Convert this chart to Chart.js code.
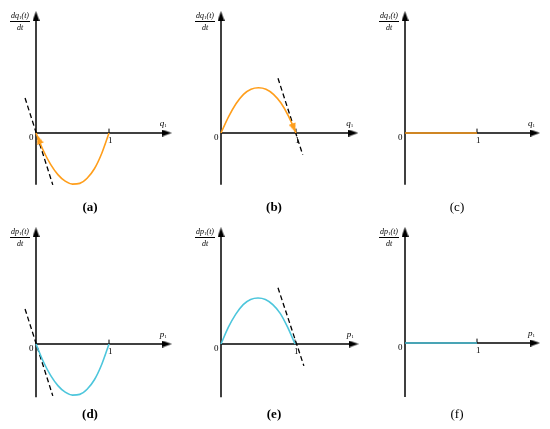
<!DOCTYPE html>
<html><head><meta charset="utf-8">
<script src="https://cdn.jsdelivr.net/npm/chart.js@4"></script>
<style>
body{margin:0;width:550px;height:429px;background:#fff;position:relative;overflow:hidden;font-family:"Liberation Serif","DejaVu Serif",serif;}
canvas{position:absolute;}
.t{position:absolute;white-space:nowrap;color:#000;line-height:1;}
.frac{position:absolute;font-style:italic;font-size:8px;line-height:1;display:flex;flex-direction:column;align-items:center;}
.frac .num{border-bottom:0.8px solid #000;padding:0 1px 1px;}
.frac .den{padding-top:2px;}
sub{font-size:5px;vertical-align:-1px;font-style:normal;}
.xl{font-style:italic;font-size:9px;}
.lab{font-size:13px;}
</style></head><body>
<script>
// ---------- data ----------
const qGrid   = [0, 0.1, 0.2, 0.3, 0.4, 0.5, 0.6, 0.7, 0.8, 0.9, 1];
const curveA  = [0, -0.24, -0.43, -0.57, -0.66, -0.70, -0.69, -0.62, -0.49, -0.28, 0];
const curveB  = [0, 0.22, 0.40, 0.53, 0.60, 0.62, 0.60, 0.53, 0.41, 0.23, 0];
const curveC  = [0, 0, 0, 0, 0, 0, 0, 0, 0, 0, 0];
const curveD  = [0, -0.24, -0.43, -0.57, -0.66, -0.70, -0.69, -0.62, -0.49, -0.28, 0];
const curveE  = [0, 0.23, 0.41, 0.54, 0.61, 0.63, 0.61, 0.54, 0.42, 0.23, 0];
const curveF  = [0, 0, 0, 0, 0, 0, 0, 0, 0, 0, 0];
const tangentA = [[-0.15, 0.48], [0.23, -0.71]];
const tangentB = [[0.76, 0.75], [1.09, -0.30]];
const tangentD = [[-0.15, 0.48], [0.23, -0.71]];
const tangentE = [[0.77, 0.77], [1.12, -0.30]];
const arrowA = [0.04, -0.09];   // arrow head on curve (a), pointing to origin
const arrowB = [0.97, 0.07];    // arrow head on curve (b), pointing to (1,0)
const panelLabels = ["(a)", "(b)", "(c)", "(d)", "(e)", "(f)"];
const yVars = ["q", "q", "q", "p", "p", "p"];
// axis extents (data units)
const yTops    = [1.67, 1.67, 1.67, 1.60, 1.60, 1.59];
const yBottoms = [-0.71, -0.71, -0.71, -0.73, -0.73, -0.74];
const xTips    = [1.86, 1.83, 1.875, 1.86, 1.86, 1.875];

// ---------- layout ----------
const ORANGE = '#FF9E1B', CYAN = '#4DC6DC';
const panels = [
  {left:0,   top:0,   ox:36,  oy:133, ux:73, curve:curveA, tan:tangentA, col:ORANGE, arrow:arrowA, rot:-20, bold:true},
  {left:185, top:0,   ox:221, oy:133, ux:75, curve:curveB, tan:tangentB, col:ORANGE, arrow:arrowB, rot:160, bold:true},
  {left:370, top:0,   ox:405, oy:133, ux:72, curve:curveC, tan:null,     col:ORANGE, arrow:null, bold:false},
  {left:0,   top:215, ox:36,  oy:344, ux:73, curve:curveD, tan:tangentD, col:CYAN,   arrow:null, bold:true},
  {left:185, top:215, ox:221, oy:344, ux:74, curve:curveE, tan:tangentE, col:CYAN,   arrow:null, bold:true},
  {left:370, top:215, ox:405, oy:343, ux:72, curve:curveF, tan:null,     col:CYAN,   arrow:null, bold:false},
];
const UY = 73, W = 180, H = 200;

function arrowImg(color, w, h){
  const c = document.createElement('canvas'); c.width = w; c.height = h;
  const g = c.getContext('2d'); g.fillStyle = color;
  g.beginPath(); g.moveTo(w/2, 0); g.lineTo(w, h); g.lineTo(0, h); g.closePath(); g.fill();
  return c;
}
const blackArrow = arrowImg('#000', 7, 10);

panels.forEach((p, i) => {
  const cv = document.createElement('canvas');
  cv.width = W; cv.height = H;
  cv.style.left = p.left + 'px'; cv.style.top = p.top + 'px';
  document.body.appendChild(cv);
  const xmin = (p.left - p.ox) / p.ux, xmax = (p.left + W - p.ox) / p.ux;
  const ymax = (p.oy - p.top) / UY, ymin = (p.oy - p.top - H) / UY;
  const ds = [];
  if (p.arrow) ds.push({data:[{x:p.arrow[0], y:p.arrow[1]}], showLine:false,
      pointStyle: arrowImg(p.col, 7, 9), pointRotation: p.rot, pointRadius: 5, clip:false});
  ds.push({data: qGrid.map((q, k) => ({x:q, y:p.curve[k]})), showLine:true, borderColor:p.col,
           borderWidth:1.6, pointRadius:0, cubicInterpolationMode:'monotone', fill:false, clip:false});
  if (p.tan) ds.push({data: p.tan.map(v => ({x:v[0], y:v[1]})), showLine:true, borderColor:'#000',
           borderWidth:1.3, borderDash:[5,3], pointRadius:0, clip:false});
  const ax = 5 / p.ux, ay = 5 / UY;
  ds.push({data:[{x:0, y:yBottoms[i]}, {x:0, y:yTops[i] - ay}], showLine:true, borderColor:'#000', borderWidth:1.5, pointRadius:0, clip:false});
  ds.push({data:[{x:0, y:0}, {x:xTips[i] - ax, y:0}], showLine:true, borderColor:'#000', borderWidth:1.5, pointRadius:0, clip:false});
  ds.push({data:[{x:1, y:0}, {x:1, y:0.06}], showLine:true, borderColor:'#000', borderWidth:1, pointRadius:0, clip:false});
  ds.push({data:[{x:0, y:yTops[i] - ay}], showLine:false, pointStyle:blackArrow, pointRotation:0, pointRadius:5, clip:false});
  ds.push({data:[{x:xTips[i] - ax, y:0}], showLine:false, pointStyle:blackArrow, pointRotation:90, pointRadius:5, clip:false});

  new Chart(cv, {
    type:'scatter',
    data:{datasets:ds},
    options:{
      responsive:false, animation:false, events:[],
      layout:{padding:0, autoPadding:false},
      plugins:{legend:{display:false}, tooltip:{enabled:false}, title:{display:false}},
      scales:{x:{type:'linear', display:false, min:xmin, max:xmax},
              y:{type:'linear', display:false, min:ymin, max:ymax}}
    }
  });

  const v = yVars[i];
  const tipY = p.oy - yTops[i] * UY;
  const f = document.createElement('div'); f.className = 'frac';
  f.style.left = (p.ox - 30) + 'px'; f.style.width = '28px'; f.style.top = (tipY + 1) + 'px';
  f.innerHTML = `<span class="num">d${v}<sub>1</sub>(t)</span><span class="den">dt</span>`;
  document.body.appendChild(f);
  const z = document.createElement('div'); z.className = 't'; z.style.fontSize = '9px';
  z.textContent = '0'; z.style.left = (p.ox - 7) + 'px'; z.style.top = (p.oy + 0) + 'px';
  document.body.appendChild(z);
  const one = document.createElement('div'); one.className = 't'; one.style.fontSize = '9px';
  one.textContent = '1'; one.style.left = (p.ox + p.ux - 1) + 'px'; one.style.top = (p.oy + 3) + 'px';
  document.body.appendChild(one);
  const xl = document.createElement('div'); xl.className = 't xl';
  xl.innerHTML = `${v}<sub>1</sub>`;
  xl.style.left = (p.ox + xTips[i] * p.ux - 12) + 'px'; xl.style.top = (p.oy - 14) + 'px';
  document.body.appendChild(xl);
  const lab = document.createElement('div'); lab.className = 't lab';
  lab.textContent = panelLabels[i];
  lab.style.fontWeight = p.bold ? 'bold' : 'normal';
  lab.style.left = (p.left + (i % 3 === 0 ? 90 : i % 3 === 1 ? 89 : 87)) + 'px';
  lab.style.top = (p.top + (i < 3 ? 200 : 192)) + 'px';
  lab.style.transform = 'translateX(-50%)';
  document.body.appendChild(lab);
});
</script>
</body></html>
